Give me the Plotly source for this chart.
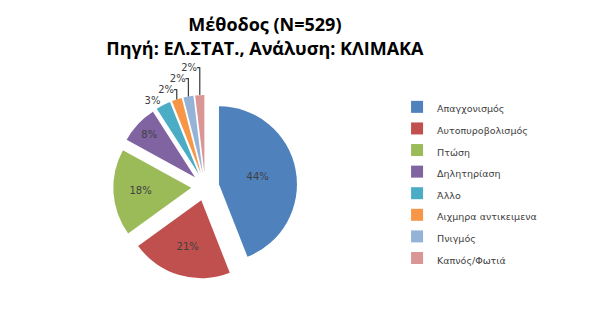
import plotly.graph_objects as go

labels = ["Απαγχονισμός", "Αυτοπυροβολισμός", "Πτώση", "Δηλητηρίαση", "Άλλο",
          "Αιχμηρα αντικειμενα", "Πνιγμός", "Καπνός/Φωτιά"]
counts = [233, 111, 95, 42, 16, 11, 11, 10]
colors = ["#4F81BD", "#C0504D", "#9BBB59", "#8064A2", "#4BACC6", "#F79646", "#95B3D7", "#D99694"]

legend_labels = ['<span style="font-size:9.5px">' + l + '</span>' for l in labels]

fig = go.Figure(go.Pie(
    labels=legend_labels, values=counts, sort=False, direction="clockwise", rotation=0,
    marker=dict(colors=colors),
    pull=[0.18] * len(counts),
    textinfo="percent", texttemplate="%{percent:.0%}",
    textposition=["inside", "inside", "inside", "inside", "outside", "outside", "outside", "outside"],
    insidetextorientation="horizontal",
    textfont=dict(family="DejaVu Sans", size=10, color="#404040"),
    outsidetextfont=dict(family="DejaVu Sans", size=10, color="#404040"),
    domain=dict(x=[0.186, 0.488], y=[0.11, 0.7]),
    hoverinfo="label+percent",
))

fig.update_layout(
    width=609, height=314,
    margin=dict(l=0, r=0, t=0, b=0),
    paper_bgcolor="white", plot_bgcolor="white",
    title=dict(text="<b>Μέθοδος (N=529)<br>Πηγή: ΕΛ.ΣΤΑΤ., Ανάλυση: ΚΛΙΜΑΚΑ</b>",
               x=0.435, xanchor="center", y=0.9, yanchor="top",
               font=dict(family="Open Sans", size=18, color="black")),
    legend=dict(x=0.652, y=0.71, xanchor="left", yanchor="top",
                font=dict(family="DejaVu Sans", size=14.3, color="#404040"),
                itemwidth=30),
    showlegend=True,
)

fig.write_html("out.html")
